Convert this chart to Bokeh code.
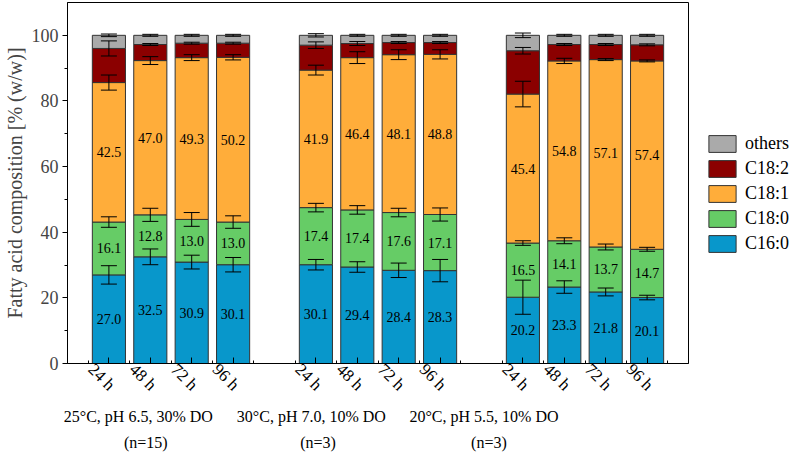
import math
from bokeh.plotting import figure
from bokeh.layouts import row
from bokeh.models import (ColumnDataSource, FixedTicker, LabelSet, Legend, LegendItem,
                          Whisker, TeeHead, Range1d, LinearAxis)
from bokeh.embed import file_html
from bokeh.resources import INLINE

# Sampling times and cultivation conditions
times = ["24 h", "48 h", "72 h", "96 h"]
conditions = ["25°C, pH 6.5, 30% DO", "30°C, pH 7.0, 10% DO", "20°C, pH 5.5, 10% DO"]
replicates = ["(n=15)", "(n=3)", "(n=3)"]
bar_x = [1, 2, 3, 4, 6, 7, 8, 9, 11, 12, 13, 14]
condition_x = [1.71, 5.89, 10.06]
replicate_x = [1.89, 6.05, 10.18]

# Fatty acid composition, % (w/w)
c16_0 = [27.0, 32.5, 30.9, 30.1, 30.1, 29.4, 28.4, 28.3, 20.2, 23.3, 21.8, 20.1]
c18_0 = [16.1, 12.8, 13.0, 13.0, 17.4, 17.4, 17.6, 17.1, 16.5, 14.1, 13.7, 14.7]
c18_1 = [42.5, 47.0, 49.3, 50.2, 41.9, 46.4, 48.1, 48.8, 45.4, 54.8, 57.1, 57.4]
c18_2 = [10.4, 4.9, 4.4, 4.3, 7.6, 4.3, 3.7, 3.6, 13.2, 5.0, 4.6, 4.9]
others = [4.0, 2.8, 2.4, 2.4, 3.0, 2.5, 2.2, 2.2, 4.7, 2.8, 2.8, 2.9]

# Standard deviations
sd_c16_0 = [2.8, 2.4, 2.1, 2.2, 1.6, 1.6, 2.2, 3.4, 5.2, 1.9, 1.2, 0.7]
sd_c18_0 = [1.6, 2.0, 2.1, 1.9, 1.3, 1.3, 1.3, 2.0, 0.7, 0.9, 0.9, 0.6]
sd_c18_1 = [2.3, 1.2, 0.9, 0.8, 1.5, 1.8, 1.5, 1.4, 3.9, 0.8, 0.3, 0.3]
sd_c18_2 = [2.3, 0.3, 0.3, 0.3, 1.0, 0.6, 0.3, 0.3, 1.0, 0.3, 0.3, 0.3]
sd_others = [0.4, 0.3, 0.3, 0.3, 0.5, 0.3, 0.3, 0.3, 0.7, 0.3, 0.3, 0.3]

names = ["C16:0", "C18:0", "C18:1", "C18:2", "others"]
series = [c16_0, c18_0, c18_1, c18_2, others]
errors = [sd_c16_0, sd_c18_0, sd_c18_1, sd_c18_2, sd_others]
colors = ["#0897CB", "#66CC66", "#FFAD3A", "#8B0000", "#AAAAAA"]
fields = ["s%d" % i for i in range(len(names))]

FONT = "Liberation Serif"
EDGE = "#333333"

data = {"x": bar_x}
for f, s in zip(fields, series):
    data[f] = s
src = ColumnDataSource(data)

p = figure(width=690, height=453, x_range=Range1d(0, 15), y_range=Range1d(0, 110),
           output_backend="svg", toolbar_location=None,
           min_border_left=64, min_border_right=2, min_border_top=2, min_border_bottom=90)
p.background_fill_color = "white"
p.border_fill_color = "white"
p.outline_line_color = "black"
p.outline_line_width = 1
p.xgrid.visible = False
p.ygrid.visible = False

p.vbar_stack(fields, x="x", width=0.8, source=src, fill_color=colors,
             line_color=EDGE, line_width=1)

# Error bars at the top of each stacked segment, value labels in the middle
cum = [0.0] * len(bar_x)
for vals, sds in zip(series, errors):
    top = [c + v for c, v in zip(cum, vals)]
    mid = [c + v / 2 for c, v in zip(cum, vals)]
    es = ColumnDataSource(dict(x=bar_x, upper=[t + e for t, e in zip(top, sds)],
                               lower=[t - e for t, e in zip(top, sds)], mid=mid,
                               txt=["%.1f" % v for v in vals]))
    w = Whisker(base="x", upper="upper", lower="lower", source=es, dimension="height",
                line_color="black", line_width=1, level="overlay",
                upper_head=TeeHead(size=16, line_color="black", line_width=1),
                lower_head=TeeHead(size=16, line_color="black", line_width=1))
    p.add_layout(w)
    if vals in (c16_0, c18_0, c18_1):
        p.add_layout(LabelSet(x="x", y="mid", text="txt", source=es,
                              text_align="center", text_baseline="middle",
                              text_font=FONT, text_font_size="14px", text_color="black"))
    cum = top

# Y axis
p.yaxis.ticker = FixedTicker(ticks=[0, 20, 40, 60, 80, 100], minor_ticks=[10, 30, 50, 70, 90])
p.yaxis.major_tick_in = 0
p.yaxis.major_tick_out = 5
p.yaxis.minor_tick_in = 0
p.yaxis.minor_tick_out = 3
p.yaxis.axis_label = "Fatty acid composition [% (w/w)]"
p.yaxis.axis_label_text_font = FONT
p.yaxis.axis_label_text_font_style = "normal"
p.yaxis.axis_label_text_font_size = "20px"
p.yaxis.axis_label_standoff = 3
p.yaxis.major_label_text_font = FONT
p.yaxis.major_label_text_font_size = "18px"
p.yaxis.major_label_standoff = 4
p.yaxis.axis_line_color = "black"
p.yaxis.major_tick_line_color = "black"
p.yaxis.minor_tick_line_color = "black"

# X axis along the frame: short inward ticks between bars
p.xaxis.ticker = FixedTicker(ticks=[], minor_ticks=[i + 0.5 for i in range(15)])
p.xaxis.minor_tick_in = 3
p.xaxis.minor_tick_out = 0
p.xaxis.major_tick_in = 0
p.xaxis.major_tick_out = 0
p.xaxis.major_label_standoff = 0
p.xaxis.axis_line_color = "black"
p.xaxis.minor_tick_line_color = "black"


def label_axis(ticks, labels, size, standoff, orientation="horizontal", minor=()):
    ax = LinearAxis(ticker=FixedTicker(ticks=ticks, minor_ticks=list(minor)),
                    major_label_overrides={t: s for t, s in zip(ticks, labels)},
                    major_label_text_font=FONT, major_label_text_font_size=size,
                    major_label_text_color="black", major_label_standoff=standoff,
                    major_label_orientation=orientation,
                    axis_line_color=None, major_tick_line_color=None,
                    minor_tick_line_color="black", minor_tick_in=6, minor_tick_out=0,
                    major_tick_in=0, major_tick_out=0)
    p.add_layout(ax, "below")
    return ax


# Rotated sampling-time labels (with the inward tick at each bar centre),
# then condition and replicate lines
time_ticks = [x - 0.43 for x in bar_x]
label_axis(time_ticks, times * 3, "17px", 3, -math.pi / 4, minor=bar_x)
label_axis(condition_x, conditions, "16px", 4)
label_axis(replicate_x, replicates, "16px", 6)

# Legend panel to the right of the plot frame; its key glyphs share the bar
# styling and fall outside this panel's own x range
lg = figure(width=106, height=453, x_range=Range1d(-2, -1), y_range=Range1d(0, 110),
            x_axis_type=None, y_axis_type=None, output_backend="svg",
            toolbar_location=None, min_border_left=0, min_border_right=0,
            min_border_top=0, min_border_bottom=0)
lg.outline_line_color = None
lg.background_fill_color = "white"
lg.border_fill_color = "white"
keys = lg.vbar_stack(fields, x="x", width=0.8, source=src, fill_color=colors,
                     line_color=EDGE, line_width=1)
items = [LegendItem(label=n, renderers=[r]) for n, r in zip(names, keys)][::-1]
legend = Legend(items=items, location=(15, 109), glyph_width=34, glyph_height=21,
                spacing=4, padding=0, margin=0, label_standoff=6,
                label_text_font=FONT, label_text_font_size="18px", label_height=21,
                label_text_color="black",
                border_line_color=None, background_fill_alpha=0)
lg.add_layout(legend, "center")

open("out.html", "w").write(file_html(row(p, lg), INLINE))
